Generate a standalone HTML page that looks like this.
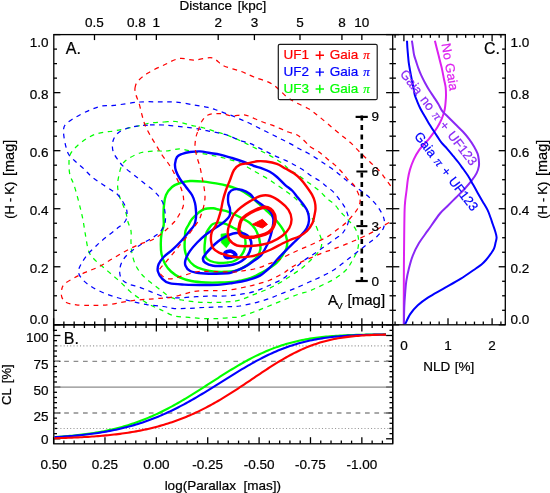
<!DOCTYPE html>
<html><head><meta charset="utf-8"><style>
html,body{margin:0;padding:0;background:#fff;width:550px;height:493px;overflow:hidden}
svg{display:block;will-change:transform}
text{stroke:currentColor;stroke-width:0.22px}
</style></head><body>
<svg width="550" height="493" viewBox="0 0 550 493"><defs><clipPath id="ca"><rect x="54.4" y="35.2" width="337.7" height="289"/></clipPath>
<clipPath id="cb"><rect x="54.4" y="325.4" width="337.7" height="117.8"/></clipPath>
<clipPath id="cc"><rect x="393.3" y="35.2" width="111.4" height="289"/></clipPath></defs>
<g fill="none" stroke="#000" stroke-width="1.3">
<rect x="53.8" y="34.6" width="451.5" height="290.2"/>
<rect x="53.8" y="324.8" width="338.9" height="119"/>
<line x1="392.7" y1="34.6" x2="392.7" y2="443.8"/>
</g>
<g stroke="#000" stroke-width="1.3">
<line x1="53.6" y1="324.8" x2="53.6" y2="318.2" stroke="#000" stroke-width="1.3"/>
<line x1="53.6" y1="324.8" x2="53.6" y2="331.4" stroke="#000" stroke-width="1.3"/>
<line x1="53.6" y1="443.8" x2="53.6" y2="437.2" stroke="#000" stroke-width="1.3"/>
<line x1="63.88" y1="324.8" x2="63.88" y2="321.6" stroke="#000" stroke-width="1.3"/>
<line x1="63.88" y1="324.8" x2="63.88" y2="328" stroke="#000" stroke-width="1.3"/>
<line x1="63.88" y1="443.8" x2="63.88" y2="440.6" stroke="#000" stroke-width="1.3"/>
<line x1="74.15" y1="324.8" x2="74.15" y2="321.6" stroke="#000" stroke-width="1.3"/>
<line x1="74.15" y1="324.8" x2="74.15" y2="328" stroke="#000" stroke-width="1.3"/>
<line x1="74.15" y1="443.8" x2="74.15" y2="440.6" stroke="#000" stroke-width="1.3"/>
<line x1="84.43" y1="324.8" x2="84.43" y2="321.6" stroke="#000" stroke-width="1.3"/>
<line x1="84.43" y1="324.8" x2="84.43" y2="328" stroke="#000" stroke-width="1.3"/>
<line x1="84.43" y1="443.8" x2="84.43" y2="440.6" stroke="#000" stroke-width="1.3"/>
<line x1="94.7" y1="324.8" x2="94.7" y2="321.6" stroke="#000" stroke-width="1.3"/>
<line x1="94.7" y1="324.8" x2="94.7" y2="328" stroke="#000" stroke-width="1.3"/>
<line x1="94.7" y1="443.8" x2="94.7" y2="440.6" stroke="#000" stroke-width="1.3"/>
<line x1="104.97" y1="324.8" x2="104.97" y2="318.2" stroke="#000" stroke-width="1.3"/>
<line x1="104.97" y1="324.8" x2="104.97" y2="331.4" stroke="#000" stroke-width="1.3"/>
<line x1="104.97" y1="443.8" x2="104.97" y2="437.2" stroke="#000" stroke-width="1.3"/>
<line x1="115.25" y1="324.8" x2="115.25" y2="321.6" stroke="#000" stroke-width="1.3"/>
<line x1="115.25" y1="324.8" x2="115.25" y2="328" stroke="#000" stroke-width="1.3"/>
<line x1="115.25" y1="443.8" x2="115.25" y2="440.6" stroke="#000" stroke-width="1.3"/>
<line x1="125.53" y1="324.8" x2="125.53" y2="321.6" stroke="#000" stroke-width="1.3"/>
<line x1="125.53" y1="324.8" x2="125.53" y2="328" stroke="#000" stroke-width="1.3"/>
<line x1="125.53" y1="443.8" x2="125.53" y2="440.6" stroke="#000" stroke-width="1.3"/>
<line x1="135.8" y1="324.8" x2="135.8" y2="321.6" stroke="#000" stroke-width="1.3"/>
<line x1="135.8" y1="324.8" x2="135.8" y2="328" stroke="#000" stroke-width="1.3"/>
<line x1="135.8" y1="443.8" x2="135.8" y2="440.6" stroke="#000" stroke-width="1.3"/>
<line x1="146.08" y1="324.8" x2="146.08" y2="321.6" stroke="#000" stroke-width="1.3"/>
<line x1="146.08" y1="324.8" x2="146.08" y2="328" stroke="#000" stroke-width="1.3"/>
<line x1="146.08" y1="443.8" x2="146.08" y2="440.6" stroke="#000" stroke-width="1.3"/>
<line x1="156.35" y1="324.8" x2="156.35" y2="318.2" stroke="#000" stroke-width="1.3"/>
<line x1="156.35" y1="324.8" x2="156.35" y2="331.4" stroke="#000" stroke-width="1.3"/>
<line x1="156.35" y1="443.8" x2="156.35" y2="437.2" stroke="#000" stroke-width="1.3"/>
<line x1="166.62" y1="324.8" x2="166.62" y2="321.6" stroke="#000" stroke-width="1.3"/>
<line x1="166.62" y1="324.8" x2="166.62" y2="328" stroke="#000" stroke-width="1.3"/>
<line x1="166.62" y1="443.8" x2="166.62" y2="440.6" stroke="#000" stroke-width="1.3"/>
<line x1="176.9" y1="324.8" x2="176.9" y2="321.6" stroke="#000" stroke-width="1.3"/>
<line x1="176.9" y1="324.8" x2="176.9" y2="328" stroke="#000" stroke-width="1.3"/>
<line x1="176.9" y1="443.8" x2="176.9" y2="440.6" stroke="#000" stroke-width="1.3"/>
<line x1="187.18" y1="324.8" x2="187.18" y2="321.6" stroke="#000" stroke-width="1.3"/>
<line x1="187.18" y1="324.8" x2="187.18" y2="328" stroke="#000" stroke-width="1.3"/>
<line x1="187.18" y1="443.8" x2="187.18" y2="440.6" stroke="#000" stroke-width="1.3"/>
<line x1="197.45" y1="324.8" x2="197.45" y2="321.6" stroke="#000" stroke-width="1.3"/>
<line x1="197.45" y1="324.8" x2="197.45" y2="328" stroke="#000" stroke-width="1.3"/>
<line x1="197.45" y1="443.8" x2="197.45" y2="440.6" stroke="#000" stroke-width="1.3"/>
<line x1="207.72" y1="324.8" x2="207.72" y2="318.2" stroke="#000" stroke-width="1.3"/>
<line x1="207.72" y1="324.8" x2="207.72" y2="331.4" stroke="#000" stroke-width="1.3"/>
<line x1="207.72" y1="443.8" x2="207.72" y2="437.2" stroke="#000" stroke-width="1.3"/>
<line x1="218" y1="324.8" x2="218" y2="321.6" stroke="#000" stroke-width="1.3"/>
<line x1="218" y1="324.8" x2="218" y2="328" stroke="#000" stroke-width="1.3"/>
<line x1="218" y1="443.8" x2="218" y2="440.6" stroke="#000" stroke-width="1.3"/>
<line x1="228.28" y1="324.8" x2="228.28" y2="321.6" stroke="#000" stroke-width="1.3"/>
<line x1="228.28" y1="324.8" x2="228.28" y2="328" stroke="#000" stroke-width="1.3"/>
<line x1="228.28" y1="443.8" x2="228.28" y2="440.6" stroke="#000" stroke-width="1.3"/>
<line x1="238.55" y1="324.8" x2="238.55" y2="321.6" stroke="#000" stroke-width="1.3"/>
<line x1="238.55" y1="324.8" x2="238.55" y2="328" stroke="#000" stroke-width="1.3"/>
<line x1="238.55" y1="443.8" x2="238.55" y2="440.6" stroke="#000" stroke-width="1.3"/>
<line x1="248.83" y1="324.8" x2="248.83" y2="321.6" stroke="#000" stroke-width="1.3"/>
<line x1="248.83" y1="324.8" x2="248.83" y2="328" stroke="#000" stroke-width="1.3"/>
<line x1="248.83" y1="443.8" x2="248.83" y2="440.6" stroke="#000" stroke-width="1.3"/>
<line x1="259.1" y1="324.8" x2="259.1" y2="318.2" stroke="#000" stroke-width="1.3"/>
<line x1="259.1" y1="324.8" x2="259.1" y2="331.4" stroke="#000" stroke-width="1.3"/>
<line x1="259.1" y1="443.8" x2="259.1" y2="437.2" stroke="#000" stroke-width="1.3"/>
<line x1="269.38" y1="324.8" x2="269.38" y2="321.6" stroke="#000" stroke-width="1.3"/>
<line x1="269.38" y1="324.8" x2="269.38" y2="328" stroke="#000" stroke-width="1.3"/>
<line x1="269.38" y1="443.8" x2="269.38" y2="440.6" stroke="#000" stroke-width="1.3"/>
<line x1="279.65" y1="324.8" x2="279.65" y2="321.6" stroke="#000" stroke-width="1.3"/>
<line x1="279.65" y1="324.8" x2="279.65" y2="328" stroke="#000" stroke-width="1.3"/>
<line x1="279.65" y1="443.8" x2="279.65" y2="440.6" stroke="#000" stroke-width="1.3"/>
<line x1="289.93" y1="324.8" x2="289.93" y2="321.6" stroke="#000" stroke-width="1.3"/>
<line x1="289.93" y1="324.8" x2="289.93" y2="328" stroke="#000" stroke-width="1.3"/>
<line x1="289.93" y1="443.8" x2="289.93" y2="440.6" stroke="#000" stroke-width="1.3"/>
<line x1="300.2" y1="324.8" x2="300.2" y2="321.6" stroke="#000" stroke-width="1.3"/>
<line x1="300.2" y1="324.8" x2="300.2" y2="328" stroke="#000" stroke-width="1.3"/>
<line x1="300.2" y1="443.8" x2="300.2" y2="440.6" stroke="#000" stroke-width="1.3"/>
<line x1="310.48" y1="324.8" x2="310.48" y2="318.2" stroke="#000" stroke-width="1.3"/>
<line x1="310.48" y1="324.8" x2="310.48" y2="331.4" stroke="#000" stroke-width="1.3"/>
<line x1="310.48" y1="443.8" x2="310.48" y2="437.2" stroke="#000" stroke-width="1.3"/>
<line x1="320.75" y1="324.8" x2="320.75" y2="321.6" stroke="#000" stroke-width="1.3"/>
<line x1="320.75" y1="324.8" x2="320.75" y2="328" stroke="#000" stroke-width="1.3"/>
<line x1="320.75" y1="443.8" x2="320.75" y2="440.6" stroke="#000" stroke-width="1.3"/>
<line x1="331.03" y1="324.8" x2="331.03" y2="321.6" stroke="#000" stroke-width="1.3"/>
<line x1="331.03" y1="324.8" x2="331.03" y2="328" stroke="#000" stroke-width="1.3"/>
<line x1="331.03" y1="443.8" x2="331.03" y2="440.6" stroke="#000" stroke-width="1.3"/>
<line x1="341.3" y1="324.8" x2="341.3" y2="321.6" stroke="#000" stroke-width="1.3"/>
<line x1="341.3" y1="324.8" x2="341.3" y2="328" stroke="#000" stroke-width="1.3"/>
<line x1="341.3" y1="443.8" x2="341.3" y2="440.6" stroke="#000" stroke-width="1.3"/>
<line x1="351.58" y1="324.8" x2="351.58" y2="321.6" stroke="#000" stroke-width="1.3"/>
<line x1="351.58" y1="324.8" x2="351.58" y2="328" stroke="#000" stroke-width="1.3"/>
<line x1="351.58" y1="443.8" x2="351.58" y2="440.6" stroke="#000" stroke-width="1.3"/>
<line x1="361.85" y1="324.8" x2="361.85" y2="318.2" stroke="#000" stroke-width="1.3"/>
<line x1="361.85" y1="324.8" x2="361.85" y2="331.4" stroke="#000" stroke-width="1.3"/>
<line x1="361.85" y1="443.8" x2="361.85" y2="437.2" stroke="#000" stroke-width="1.3"/>
<line x1="372.13" y1="324.8" x2="372.13" y2="321.6" stroke="#000" stroke-width="1.3"/>
<line x1="372.13" y1="324.8" x2="372.13" y2="328" stroke="#000" stroke-width="1.3"/>
<line x1="372.13" y1="443.8" x2="372.13" y2="440.6" stroke="#000" stroke-width="1.3"/>
<line x1="382.4" y1="324.8" x2="382.4" y2="321.6" stroke="#000" stroke-width="1.3"/>
<line x1="382.4" y1="324.8" x2="382.4" y2="328" stroke="#000" stroke-width="1.3"/>
<line x1="382.4" y1="443.8" x2="382.4" y2="440.6" stroke="#000" stroke-width="1.3"/>
<line x1="94.49" y1="34.6" x2="94.49" y2="40.1" stroke="#000" stroke-width="1.3"/>
<line x1="136.43" y1="34.6" x2="136.43" y2="40.1" stroke="#000" stroke-width="1.3"/>
<line x1="156.35" y1="34.6" x2="156.35" y2="40.1" stroke="#000" stroke-width="1.3"/>
<line x1="218.21" y1="34.6" x2="218.21" y2="40.1" stroke="#000" stroke-width="1.3"/>
<line x1="254.4" y1="34.6" x2="254.4" y2="40.1" stroke="#000" stroke-width="1.3"/>
<line x1="299.99" y1="34.6" x2="299.99" y2="40.1" stroke="#000" stroke-width="1.3"/>
<line x1="341.93" y1="34.6" x2="341.93" y2="40.1" stroke="#000" stroke-width="1.3"/>
<line x1="361.85" y1="34.6" x2="361.85" y2="40.1" stroke="#000" stroke-width="1.3"/>
<line x1="53.8" y1="324.8" x2="60.4" y2="324.8" stroke="#000" stroke-width="1.3"/>
<line x1="392.7" y1="324.8" x2="386.1" y2="324.8" stroke="#000" stroke-width="1.3"/>
<line x1="392.7" y1="324.8" x2="399.3" y2="324.8" stroke="#000" stroke-width="1.3"/>
<line x1="505.3" y1="324.8" x2="498.7" y2="324.8" stroke="#000" stroke-width="1.3"/>
<line x1="53.8" y1="310.29" x2="57" y2="310.29" stroke="#000" stroke-width="1.3"/>
<line x1="392.7" y1="310.29" x2="389.5" y2="310.29" stroke="#000" stroke-width="1.3"/>
<line x1="392.7" y1="310.29" x2="395.9" y2="310.29" stroke="#000" stroke-width="1.3"/>
<line x1="505.3" y1="310.29" x2="502.1" y2="310.29" stroke="#000" stroke-width="1.3"/>
<line x1="53.8" y1="295.78" x2="57" y2="295.78" stroke="#000" stroke-width="1.3"/>
<line x1="392.7" y1="295.78" x2="389.5" y2="295.78" stroke="#000" stroke-width="1.3"/>
<line x1="392.7" y1="295.78" x2="395.9" y2="295.78" stroke="#000" stroke-width="1.3"/>
<line x1="505.3" y1="295.78" x2="502.1" y2="295.78" stroke="#000" stroke-width="1.3"/>
<line x1="53.8" y1="281.27" x2="57" y2="281.27" stroke="#000" stroke-width="1.3"/>
<line x1="392.7" y1="281.27" x2="389.5" y2="281.27" stroke="#000" stroke-width="1.3"/>
<line x1="392.7" y1="281.27" x2="395.9" y2="281.27" stroke="#000" stroke-width="1.3"/>
<line x1="505.3" y1="281.27" x2="502.1" y2="281.27" stroke="#000" stroke-width="1.3"/>
<line x1="53.8" y1="266.76" x2="60.4" y2="266.76" stroke="#000" stroke-width="1.3"/>
<line x1="392.7" y1="266.76" x2="386.1" y2="266.76" stroke="#000" stroke-width="1.3"/>
<line x1="392.7" y1="266.76" x2="399.3" y2="266.76" stroke="#000" stroke-width="1.3"/>
<line x1="505.3" y1="266.76" x2="498.7" y2="266.76" stroke="#000" stroke-width="1.3"/>
<line x1="53.8" y1="252.25" x2="57" y2="252.25" stroke="#000" stroke-width="1.3"/>
<line x1="392.7" y1="252.25" x2="389.5" y2="252.25" stroke="#000" stroke-width="1.3"/>
<line x1="392.7" y1="252.25" x2="395.9" y2="252.25" stroke="#000" stroke-width="1.3"/>
<line x1="505.3" y1="252.25" x2="502.1" y2="252.25" stroke="#000" stroke-width="1.3"/>
<line x1="53.8" y1="237.74" x2="57" y2="237.74" stroke="#000" stroke-width="1.3"/>
<line x1="392.7" y1="237.74" x2="389.5" y2="237.74" stroke="#000" stroke-width="1.3"/>
<line x1="392.7" y1="237.74" x2="395.9" y2="237.74" stroke="#000" stroke-width="1.3"/>
<line x1="505.3" y1="237.74" x2="502.1" y2="237.74" stroke="#000" stroke-width="1.3"/>
<line x1="53.8" y1="223.23" x2="57" y2="223.23" stroke="#000" stroke-width="1.3"/>
<line x1="392.7" y1="223.23" x2="389.5" y2="223.23" stroke="#000" stroke-width="1.3"/>
<line x1="392.7" y1="223.23" x2="395.9" y2="223.23" stroke="#000" stroke-width="1.3"/>
<line x1="505.3" y1="223.23" x2="502.1" y2="223.23" stroke="#000" stroke-width="1.3"/>
<line x1="53.8" y1="208.72" x2="60.4" y2="208.72" stroke="#000" stroke-width="1.3"/>
<line x1="392.7" y1="208.72" x2="386.1" y2="208.72" stroke="#000" stroke-width="1.3"/>
<line x1="392.7" y1="208.72" x2="399.3" y2="208.72" stroke="#000" stroke-width="1.3"/>
<line x1="505.3" y1="208.72" x2="498.7" y2="208.72" stroke="#000" stroke-width="1.3"/>
<line x1="53.8" y1="194.21" x2="57" y2="194.21" stroke="#000" stroke-width="1.3"/>
<line x1="392.7" y1="194.21" x2="389.5" y2="194.21" stroke="#000" stroke-width="1.3"/>
<line x1="392.7" y1="194.21" x2="395.9" y2="194.21" stroke="#000" stroke-width="1.3"/>
<line x1="505.3" y1="194.21" x2="502.1" y2="194.21" stroke="#000" stroke-width="1.3"/>
<line x1="53.8" y1="179.7" x2="57" y2="179.7" stroke="#000" stroke-width="1.3"/>
<line x1="392.7" y1="179.7" x2="389.5" y2="179.7" stroke="#000" stroke-width="1.3"/>
<line x1="392.7" y1="179.7" x2="395.9" y2="179.7" stroke="#000" stroke-width="1.3"/>
<line x1="505.3" y1="179.7" x2="502.1" y2="179.7" stroke="#000" stroke-width="1.3"/>
<line x1="53.8" y1="165.19" x2="57" y2="165.19" stroke="#000" stroke-width="1.3"/>
<line x1="392.7" y1="165.19" x2="389.5" y2="165.19" stroke="#000" stroke-width="1.3"/>
<line x1="392.7" y1="165.19" x2="395.9" y2="165.19" stroke="#000" stroke-width="1.3"/>
<line x1="505.3" y1="165.19" x2="502.1" y2="165.19" stroke="#000" stroke-width="1.3"/>
<line x1="53.8" y1="150.68" x2="60.4" y2="150.68" stroke="#000" stroke-width="1.3"/>
<line x1="392.7" y1="150.68" x2="386.1" y2="150.68" stroke="#000" stroke-width="1.3"/>
<line x1="392.7" y1="150.68" x2="399.3" y2="150.68" stroke="#000" stroke-width="1.3"/>
<line x1="505.3" y1="150.68" x2="498.7" y2="150.68" stroke="#000" stroke-width="1.3"/>
<line x1="53.8" y1="136.17" x2="57" y2="136.17" stroke="#000" stroke-width="1.3"/>
<line x1="392.7" y1="136.17" x2="389.5" y2="136.17" stroke="#000" stroke-width="1.3"/>
<line x1="392.7" y1="136.17" x2="395.9" y2="136.17" stroke="#000" stroke-width="1.3"/>
<line x1="505.3" y1="136.17" x2="502.1" y2="136.17" stroke="#000" stroke-width="1.3"/>
<line x1="53.8" y1="121.66" x2="57" y2="121.66" stroke="#000" stroke-width="1.3"/>
<line x1="392.7" y1="121.66" x2="389.5" y2="121.66" stroke="#000" stroke-width="1.3"/>
<line x1="392.7" y1="121.66" x2="395.9" y2="121.66" stroke="#000" stroke-width="1.3"/>
<line x1="505.3" y1="121.66" x2="502.1" y2="121.66" stroke="#000" stroke-width="1.3"/>
<line x1="53.8" y1="107.15" x2="57" y2="107.15" stroke="#000" stroke-width="1.3"/>
<line x1="392.7" y1="107.15" x2="389.5" y2="107.15" stroke="#000" stroke-width="1.3"/>
<line x1="392.7" y1="107.15" x2="395.9" y2="107.15" stroke="#000" stroke-width="1.3"/>
<line x1="505.3" y1="107.15" x2="502.1" y2="107.15" stroke="#000" stroke-width="1.3"/>
<line x1="53.8" y1="92.64" x2="60.4" y2="92.64" stroke="#000" stroke-width="1.3"/>
<line x1="392.7" y1="92.64" x2="386.1" y2="92.64" stroke="#000" stroke-width="1.3"/>
<line x1="392.7" y1="92.64" x2="399.3" y2="92.64" stroke="#000" stroke-width="1.3"/>
<line x1="505.3" y1="92.64" x2="498.7" y2="92.64" stroke="#000" stroke-width="1.3"/>
<line x1="53.8" y1="78.13" x2="57" y2="78.13" stroke="#000" stroke-width="1.3"/>
<line x1="392.7" y1="78.13" x2="389.5" y2="78.13" stroke="#000" stroke-width="1.3"/>
<line x1="392.7" y1="78.13" x2="395.9" y2="78.13" stroke="#000" stroke-width="1.3"/>
<line x1="505.3" y1="78.13" x2="502.1" y2="78.13" stroke="#000" stroke-width="1.3"/>
<line x1="53.8" y1="63.62" x2="57" y2="63.62" stroke="#000" stroke-width="1.3"/>
<line x1="392.7" y1="63.62" x2="389.5" y2="63.62" stroke="#000" stroke-width="1.3"/>
<line x1="392.7" y1="63.62" x2="395.9" y2="63.62" stroke="#000" stroke-width="1.3"/>
<line x1="505.3" y1="63.62" x2="502.1" y2="63.62" stroke="#000" stroke-width="1.3"/>
<line x1="53.8" y1="49.11" x2="57" y2="49.11" stroke="#000" stroke-width="1.3"/>
<line x1="392.7" y1="49.11" x2="389.5" y2="49.11" stroke="#000" stroke-width="1.3"/>
<line x1="392.7" y1="49.11" x2="395.9" y2="49.11" stroke="#000" stroke-width="1.3"/>
<line x1="505.3" y1="49.11" x2="502.1" y2="49.11" stroke="#000" stroke-width="1.3"/>
<line x1="53.8" y1="34.6" x2="60.4" y2="34.6" stroke="#000" stroke-width="1.3"/>
<line x1="392.7" y1="34.6" x2="386.1" y2="34.6" stroke="#000" stroke-width="1.3"/>
<line x1="392.7" y1="34.6" x2="399.3" y2="34.6" stroke="#000" stroke-width="1.3"/>
<line x1="505.3" y1="34.6" x2="498.7" y2="34.6" stroke="#000" stroke-width="1.3"/>
<line x1="53.8" y1="438.8" x2="60.4" y2="438.8" stroke="#000" stroke-width="1.3"/>
<line x1="392.7" y1="438.8" x2="386.1" y2="438.8" stroke="#000" stroke-width="1.3"/>
<line x1="53.8" y1="433.63" x2="57" y2="433.63" stroke="#000" stroke-width="1.3"/>
<line x1="392.7" y1="433.63" x2="389.5" y2="433.63" stroke="#000" stroke-width="1.3"/>
<line x1="53.8" y1="428.47" x2="57" y2="428.47" stroke="#000" stroke-width="1.3"/>
<line x1="392.7" y1="428.47" x2="389.5" y2="428.47" stroke="#000" stroke-width="1.3"/>
<line x1="53.8" y1="423.31" x2="57" y2="423.31" stroke="#000" stroke-width="1.3"/>
<line x1="392.7" y1="423.31" x2="389.5" y2="423.31" stroke="#000" stroke-width="1.3"/>
<line x1="53.8" y1="418.14" x2="57" y2="418.14" stroke="#000" stroke-width="1.3"/>
<line x1="392.7" y1="418.14" x2="389.5" y2="418.14" stroke="#000" stroke-width="1.3"/>
<line x1="53.8" y1="412.98" x2="60.4" y2="412.98" stroke="#000" stroke-width="1.3"/>
<line x1="392.7" y1="412.98" x2="386.1" y2="412.98" stroke="#000" stroke-width="1.3"/>
<line x1="53.8" y1="407.81" x2="57" y2="407.81" stroke="#000" stroke-width="1.3"/>
<line x1="392.7" y1="407.81" x2="389.5" y2="407.81" stroke="#000" stroke-width="1.3"/>
<line x1="53.8" y1="402.65" x2="57" y2="402.65" stroke="#000" stroke-width="1.3"/>
<line x1="392.7" y1="402.65" x2="389.5" y2="402.65" stroke="#000" stroke-width="1.3"/>
<line x1="53.8" y1="397.48" x2="57" y2="397.48" stroke="#000" stroke-width="1.3"/>
<line x1="392.7" y1="397.48" x2="389.5" y2="397.48" stroke="#000" stroke-width="1.3"/>
<line x1="53.8" y1="392.31" x2="57" y2="392.31" stroke="#000" stroke-width="1.3"/>
<line x1="392.7" y1="392.31" x2="389.5" y2="392.31" stroke="#000" stroke-width="1.3"/>
<line x1="53.8" y1="387.15" x2="60.4" y2="387.15" stroke="#000" stroke-width="1.3"/>
<line x1="392.7" y1="387.15" x2="386.1" y2="387.15" stroke="#000" stroke-width="1.3"/>
<line x1="53.8" y1="381.99" x2="57" y2="381.99" stroke="#000" stroke-width="1.3"/>
<line x1="392.7" y1="381.99" x2="389.5" y2="381.99" stroke="#000" stroke-width="1.3"/>
<line x1="53.8" y1="376.82" x2="57" y2="376.82" stroke="#000" stroke-width="1.3"/>
<line x1="392.7" y1="376.82" x2="389.5" y2="376.82" stroke="#000" stroke-width="1.3"/>
<line x1="53.8" y1="371.66" x2="57" y2="371.66" stroke="#000" stroke-width="1.3"/>
<line x1="392.7" y1="371.66" x2="389.5" y2="371.66" stroke="#000" stroke-width="1.3"/>
<line x1="53.8" y1="366.49" x2="57" y2="366.49" stroke="#000" stroke-width="1.3"/>
<line x1="392.7" y1="366.49" x2="389.5" y2="366.49" stroke="#000" stroke-width="1.3"/>
<line x1="53.8" y1="361.33" x2="60.4" y2="361.33" stroke="#000" stroke-width="1.3"/>
<line x1="392.7" y1="361.33" x2="386.1" y2="361.33" stroke="#000" stroke-width="1.3"/>
<line x1="53.8" y1="356.16" x2="57" y2="356.16" stroke="#000" stroke-width="1.3"/>
<line x1="392.7" y1="356.16" x2="389.5" y2="356.16" stroke="#000" stroke-width="1.3"/>
<line x1="53.8" y1="351" x2="57" y2="351" stroke="#000" stroke-width="1.3"/>
<line x1="392.7" y1="351" x2="389.5" y2="351" stroke="#000" stroke-width="1.3"/>
<line x1="53.8" y1="345.83" x2="57" y2="345.83" stroke="#000" stroke-width="1.3"/>
<line x1="392.7" y1="345.83" x2="389.5" y2="345.83" stroke="#000" stroke-width="1.3"/>
<line x1="53.8" y1="340.67" x2="57" y2="340.67" stroke="#000" stroke-width="1.3"/>
<line x1="392.7" y1="340.67" x2="389.5" y2="340.67" stroke="#000" stroke-width="1.3"/>
<line x1="53.8" y1="335.5" x2="60.4" y2="335.5" stroke="#000" stroke-width="1.3"/>
<line x1="392.7" y1="335.5" x2="386.1" y2="335.5" stroke="#000" stroke-width="1.3"/>
<line x1="53.8" y1="330.34" x2="57" y2="330.34" stroke="#000" stroke-width="1.3"/>
<line x1="392.7" y1="330.34" x2="389.5" y2="330.34" stroke="#000" stroke-width="1.3"/>
<line x1="395.08" y1="34.6" x2="395.08" y2="37.8" stroke="#000" stroke-width="1.3"/>
<line x1="395.08" y1="324.8" x2="395.08" y2="321.6" stroke="#000" stroke-width="1.3"/>
<line x1="403.9" y1="34.6" x2="403.9" y2="41.2" stroke="#000" stroke-width="1.3"/>
<line x1="403.9" y1="324.8" x2="403.9" y2="318.2" stroke="#000" stroke-width="1.3"/>
<line x1="412.72" y1="34.6" x2="412.72" y2="37.8" stroke="#000" stroke-width="1.3"/>
<line x1="412.72" y1="324.8" x2="412.72" y2="321.6" stroke="#000" stroke-width="1.3"/>
<line x1="421.54" y1="34.6" x2="421.54" y2="37.8" stroke="#000" stroke-width="1.3"/>
<line x1="421.54" y1="324.8" x2="421.54" y2="321.6" stroke="#000" stroke-width="1.3"/>
<line x1="430.36" y1="34.6" x2="430.36" y2="37.8" stroke="#000" stroke-width="1.3"/>
<line x1="430.36" y1="324.8" x2="430.36" y2="321.6" stroke="#000" stroke-width="1.3"/>
<line x1="439.18" y1="34.6" x2="439.18" y2="37.8" stroke="#000" stroke-width="1.3"/>
<line x1="439.18" y1="324.8" x2="439.18" y2="321.6" stroke="#000" stroke-width="1.3"/>
<line x1="448" y1="34.6" x2="448" y2="41.2" stroke="#000" stroke-width="1.3"/>
<line x1="448" y1="324.8" x2="448" y2="318.2" stroke="#000" stroke-width="1.3"/>
<line x1="456.82" y1="34.6" x2="456.82" y2="37.8" stroke="#000" stroke-width="1.3"/>
<line x1="456.82" y1="324.8" x2="456.82" y2="321.6" stroke="#000" stroke-width="1.3"/>
<line x1="465.64" y1="34.6" x2="465.64" y2="37.8" stroke="#000" stroke-width="1.3"/>
<line x1="465.64" y1="324.8" x2="465.64" y2="321.6" stroke="#000" stroke-width="1.3"/>
<line x1="474.46" y1="34.6" x2="474.46" y2="37.8" stroke="#000" stroke-width="1.3"/>
<line x1="474.46" y1="324.8" x2="474.46" y2="321.6" stroke="#000" stroke-width="1.3"/>
<line x1="483.28" y1="34.6" x2="483.28" y2="37.8" stroke="#000" stroke-width="1.3"/>
<line x1="483.28" y1="324.8" x2="483.28" y2="321.6" stroke="#000" stroke-width="1.3"/>
<line x1="492.1" y1="34.6" x2="492.1" y2="41.2" stroke="#000" stroke-width="1.3"/>
<line x1="492.1" y1="324.8" x2="492.1" y2="318.2" stroke="#000" stroke-width="1.3"/>
<line x1="500.92" y1="34.6" x2="500.92" y2="37.8" stroke="#000" stroke-width="1.3"/>
<line x1="500.92" y1="324.8" x2="500.92" y2="321.6" stroke="#000" stroke-width="1.3"/>
</g>
<g clip-path="url(#ca)" fill="none" stroke-linejoin="round">
<path d="M164,122C168.33,121.75 171.67,121 176,121.5C180.33,122 185.33,123.92 190,125C194.67,126.08 199.53,126.83 204,128C208.47,129.17 212.63,130.7 216.8,132C220.97,133.3 224.67,134.15 229,135.8C233.33,137.45 239.07,140.17 242.8,141.9C246.53,143.63 248.55,144.77 251.4,146.2C254.25,147.63 257.07,149.08 259.9,150.5C262.73,151.92 265.57,153.17 268.4,154.7C271.23,156.23 274.3,158.03 276.9,159.7C279.5,161.37 281.9,163.02 284,164.7C286.1,166.38 287.2,168.12 289.5,169.8C291.8,171.48 295,172.9 297.8,174.8C300.6,176.7 303.7,179.3 306.3,181.2C308.9,183.1 311.03,184.42 313.4,186.2C315.77,187.98 318.13,189.77 320.5,191.9C322.87,194.03 325.23,196.87 327.6,199C329.97,201.13 332.57,202.57 334.7,204.7C336.83,206.83 338.68,209.83 340.4,211.8C342.12,213.77 343.57,215 345,216.5C346.43,218 347.25,218.72 349,220.8C350.75,222.88 353.92,225.97 355.5,229C357.08,232.03 358.17,235.5 358.5,239C358.83,242.5 358.58,246.33 357.5,250C356.42,253.67 353.92,257.67 352,261C350.08,264.33 348.92,267.02 346,270C343.08,272.98 339.28,275.98 334.5,278.9C329.72,281.82 321.65,285.42 317.3,287.5C312.95,289.58 311.58,290.27 308.4,291.4C305.22,292.53 302.33,292.87 298.2,294.3C294.07,295.73 288.47,298.05 283.6,300C278.73,301.95 273.85,304.05 269,306C264.15,307.95 259.33,309.92 254.5,311.7C249.67,313.48 243.63,315.75 240,316.7C236.37,317.65 236.33,317.1 232.7,317.4C229.07,317.7 223.05,318.32 218.2,318.5C213.35,318.68 208.47,318.68 203.6,318.5C198.73,318.32 193.85,317.82 189,317.4C184.15,316.98 178.6,316.98 174.5,316C170.4,315.02 166.98,312.67 164.4,311.5C161.82,310.33 161.4,310.12 159,309C156.6,307.88 153.37,306.63 150,304.8C146.63,302.97 142.13,300.23 138.8,298C135.47,295.77 132.97,293.98 130,291.4C127.03,288.82 124,285.28 121,282.5C118,279.72 115,277.28 112,274.7C109,272.12 106,269.62 103,267C100,264.38 96.4,261.67 94,259C91.6,256.33 90.07,255.27 88.6,251C87.13,246.73 86.13,238.57 85.2,233.4C84.27,228.23 83.7,223.73 83,220C82.3,216.27 81.83,214.5 81,211C80.17,207.5 79.17,203.33 78,199C76.83,194.67 75.33,189 74,185C72.67,181 70.83,178.33 70,175C69.17,171.67 69,168.33 69,165C69,161.67 68.83,158 70,155C71.17,152 73.33,149.67 76,147C78.67,144.33 82.67,141.17 86,139C89.33,136.83 92.67,135.17 96,134C99.33,132.83 103,132.5 106,132C109,131.5 111,131.5 114,131C117,130.5 120,129.83 124,129C128,128.17 133.67,127 138,126C142.33,125 145.67,123.67 150,123C154.33,122.33 159.67,122.25 164,122Z" stroke="#00ff00" stroke-width="1.25" stroke-dasharray="4.7,4.6"/>
<path d="M166,151C170.33,150.67 175.33,148.83 180,149C184.67,149.17 189,151 194,152C199,153 205,154 210,155C215,156 219,156.67 224,158C229,159.33 235,160.83 240,163C245,165.17 249.33,168.33 254,171C258.67,173.67 264.67,177 268,179C271.33,181 271.17,181.08 274,183C276.83,184.92 281.33,187.83 285,190.5C288.67,193.17 292.75,196.08 296,199C299.25,201.92 302,205.07 304.5,208C307,210.93 309.37,214.22 311,216.6C312.63,218.98 313.13,219.93 314.3,222.3C315.47,224.67 316.78,227.75 318,230.8C319.22,233.85 321.2,237.55 321.6,240.6C322,243.65 321.62,246.47 320.4,249.1C319.18,251.73 316.53,253.97 314.3,256.4C312.07,258.83 309.43,261.47 307,263.7C304.57,265.93 303.6,267 299.7,269.8C295.8,272.6 288.72,277.38 283.6,280.5C278.48,283.62 273.85,286.2 269,288.5C264.15,290.8 259.33,292.38 254.5,294.3C249.67,296.22 244.83,298.72 240,300C235.17,301.28 230.33,301.58 225.5,302C220.67,302.42 215.85,302.5 211,302.5C206.15,302.5 201.27,302.42 196.4,302C191.53,301.58 185.93,300.72 181.8,300C177.67,299.28 174.73,299.03 171.6,297.7C168.47,296.37 165.5,293.78 163,292C160.5,290.22 159.15,289 156.6,287C154.05,285 150.3,282.25 147.7,280C145.1,277.75 143.05,276.07 141,273.5C138.95,270.93 136.9,267.93 135.4,264.6C133.9,261.27 132.73,257.22 132,253.5C131.27,249.78 131.17,246.05 131,242.3C130.83,238.55 131.5,234.38 131,231C130.5,227.62 128.83,225 128,222C127.17,219 126.83,215.83 126,213C125.17,210.17 124.17,208 123,205C121.83,202 119.9,198.33 119,195C118.1,191.67 117.6,188.33 117.6,185C117.6,181.67 118.27,178.33 119,175C119.73,171.67 120.5,167.67 122,165C123.5,162.33 125,161 128,159C131,157 135.67,154.33 140,153C144.33,151.67 149.67,151.33 154,151C158.33,150.67 161.67,151.33 166,151Z" stroke="#00ff00" stroke-width="1.25" stroke-dasharray="4.7,4.6"/>
<path d="M164,205C164.42,201.67 164.67,198 166,195C167.33,192 169.67,189 172,187C174.33,185 177,184 180,183C183,182 186,181.23 190,181C194,180.77 199.67,181.2 204,181.6C208.33,182 212,182.67 216,183.4C220,184.13 224,184.9 228,186C232,187.1 236.33,188.33 240,190C243.67,191.67 247,193.83 250,196C253,198.17 255,200.33 258,203C261,205.67 264.95,209.08 268,212C271.05,214.92 273.65,217.32 276.3,220.5C278.95,223.68 282.12,227.85 283.9,231.1C285.68,234.35 286.57,237.18 287,240C287.43,242.82 287.27,245.42 286.5,248C285.73,250.58 284.1,252.98 282.4,255.5C280.7,258.02 278.83,260.77 276.3,263.1C273.77,265.43 270.25,267.6 267.2,269.5C264.15,271.4 260.73,273.12 258,274.5C255.27,275.88 253.52,276.83 250.8,277.8C248.08,278.77 244.33,279.65 241.7,280.3C239.07,280.95 238.53,281.33 235,281.7C231.47,282.07 225.35,282.37 220.5,282.5C215.65,282.63 210.75,282.75 205.9,282.5C201.05,282.25 195.77,281.85 191.4,281C187.03,280.15 183.1,278.98 179.7,277.4C176.3,275.82 173.42,273.68 171,271.5C168.58,269.32 166.78,267.2 165.2,264.3C163.62,261.4 162.23,257.5 161.5,254.1C160.77,250.7 160.8,247.3 160.8,243.9C160.8,240.5 161.02,236.85 161.5,233.7C161.98,230.55 163.37,228.12 163.7,225C164.03,221.88 163.45,218.33 163.5,215C163.55,211.67 163.58,208.33 164,205Z" stroke="#00ff00" stroke-width="2.4"/>
<path d="M188.5,225C189.58,223.03 190.3,221.07 192,219C193.7,216.93 196.62,214.27 198.7,212.6C200.78,210.93 202.07,209.72 204.5,209C206.93,208.28 210.88,208.18 213.3,208.3C215.72,208.42 216.82,209.22 219,209.7C221.18,210.18 223.97,210.48 226.4,211.2C228.83,211.92 230.93,212.78 233.6,214C236.27,215.22 239.73,217.03 242.4,218.5C245.07,219.97 247.5,221.12 249.6,222.8C251.7,224.48 253.52,226.4 255,228.6C256.48,230.8 257.67,233.6 258.5,236C259.33,238.4 259.68,240.82 260,243C260.32,245.18 260.73,247.02 260.4,249.1C260.07,251.18 259.3,253.52 258,255.5C256.7,257.48 255.02,259.02 252.6,261C250.18,262.98 246.43,265.73 243.5,267.4C240.57,269.07 238.12,270.27 235,271C231.88,271.73 228.43,271.72 224.8,271.8C221.17,271.88 216.83,271.9 213.2,271.5C209.57,271.1 206.15,270.37 203,269.4C199.85,268.43 196.85,267.52 194.3,265.7C191.75,263.88 189.28,261.17 187.7,258.5C186.12,255.83 185.28,252.87 184.8,249.7C184.32,246.53 184.68,242.65 184.8,239.5C184.92,236.35 184.88,233.22 185.5,230.8C186.12,228.38 187.42,226.97 188.5,225Z" stroke="#00ff00" stroke-width="2.4"/>
<path d="M210.3,226.5C211.37,225.12 211.72,224.65 213,224C214.28,223.35 215.92,222.62 218,222.6C220.08,222.58 222.97,223.05 225.5,223.9C228.03,224.75 230.65,226.43 233.2,227.7C235.75,228.97 238.92,230.02 240.8,231.5C242.68,232.98 243.72,234.47 244.5,236.6C245.28,238.73 245.67,241.75 245.5,244.3C245.33,246.85 244.67,249.57 243.5,251.9C242.33,254.23 240.25,256.7 238.5,258.3C236.75,259.9 234.8,260.8 233,261.5C231.2,262.2 230.03,262.25 227.7,262.5C225.37,262.75 221.9,263.25 219,263C216.1,262.75 212.48,261.92 210.3,261C208.12,260.08 206.87,259.38 205.9,257.5C204.93,255.62 204.62,252.7 204.5,249.7C204.38,246.7 204.85,242.4 205.2,239.5C205.55,236.6 205.75,234.47 206.6,232.3C207.45,230.13 209.23,227.88 210.3,226.5Z" stroke="#00ff00" stroke-width="2.4"/>
<path d="M221,234.2 L226.3,233.5 L229.9,242.7 L226.3,247.7 L221.4,242.7 Z" fill="#00ff00" stroke="#00ff00" stroke-width="0.8"/>
<path d="M63.6,129C63.93,126.83 63.93,126 66,124C68.07,122 72,119.33 76,117C80,114.67 85.67,111.83 90,110C94.33,108.17 98,106.77 102,106C106,105.23 107.67,106.07 114,105.4C120.33,104.73 131.67,102.57 140,102C148.33,101.43 158,102 164,102C170,102 171,101.5 176,102C181,102.5 188.67,104.1 194,105C199.33,105.9 204,106.47 208,107.4C212,108.33 214.33,109.33 218,110.6C221.67,111.87 226.33,113.57 230,115C233.67,116.43 236.92,117.9 240,119.2C243.08,120.5 245.67,121.5 248.5,122.8C251.33,124.1 254.15,125.58 257,127C259.85,128.42 262.75,129.88 265.6,131.3C268.45,132.72 271.27,134.08 274.1,135.5C276.93,136.92 279.77,138.37 282.6,139.8C285.43,141.23 288.25,142.57 291.1,144.1C293.95,145.63 296.85,147.47 299.7,149C302.55,150.53 305.2,151.6 308.2,153.3C311.2,155 314.7,157.27 317.7,159.2C320.7,161.13 323.37,163 326.2,164.9C329.03,166.8 331.87,168.47 334.7,170.6C337.53,172.73 340.6,175.57 343.2,177.7C345.8,179.83 347.42,181.28 350.3,183.4C353.18,185.52 357.13,187.88 360.5,190.4C363.87,192.92 367.45,195.52 370.5,198.5C373.55,201.48 376.55,204.92 378.8,208.3C381.05,211.68 383.22,215.52 384,218.8C384.78,222.08 384.67,225.05 383.5,228C382.33,230.95 379.75,233.75 377,236.5C374.25,239.25 371.17,241.25 367,244.5C362.83,247.75 357.42,251.83 352,256C346.58,260.17 340.28,265.75 334.5,269.5C328.72,273.25 321.42,276.45 317.3,278.5C313.18,280.55 312.98,280.38 309.8,281.8C306.62,283.22 302.57,285.17 298.2,287C293.83,288.83 288.47,290.87 283.6,292.8C278.73,294.73 273.85,296.9 269,298.6C264.15,300.3 259.33,301.77 254.5,303C249.67,304.23 243.63,305.42 240,306C236.37,306.58 236.33,306.35 232.7,306.5C229.07,306.65 223.05,306.73 218.2,306.9C213.35,307.07 208.47,307.27 203.6,307.5C198.73,307.73 193.85,308.12 189,308.3C184.15,308.48 178.78,308.9 174.5,308.6C170.22,308.3 167.77,307.13 163.3,306.5C158.83,305.87 152.92,305.65 147.7,304.8C142.48,303.95 136.83,302.53 132,301.4C127.17,300.27 123.15,299.3 118.7,298C114.25,296.7 109.75,295.43 105.3,293.6C100.85,291.77 95.72,289.27 92,287C88.28,284.73 85.25,282.43 83,280C80.75,277.57 78.87,274.97 78.5,272.4C78.13,269.83 79.3,267.57 80.8,264.6C82.3,261.63 84.9,257.75 87.5,254.6C90.1,251.45 93.43,248.5 96.4,245.7C99.37,242.9 101.95,240.58 105.3,237.8C108.65,235.02 113.15,231.8 116.5,229C119.85,226.2 123.65,223.67 125.4,221C127.15,218.33 126.9,215.17 127,213C127.1,210.83 126.67,209.83 126,208C125.33,206.17 124.33,204.17 123,202C121.67,199.83 119.83,196.92 118,195C116.17,193.08 114.67,192.33 112,190.5C109.33,188.67 105.33,186.25 102,184C98.67,181.75 95,179.5 92,177C89,174.5 86.67,171.5 84,169C81.33,166.5 78.5,164.33 76,162C73.5,159.67 70.67,157.5 69,155C67.33,152.5 66.83,150 66,147C65.17,144 64.4,140 64,137C63.6,134 63.27,131.17 63.6,129Z" stroke="#0000ff" stroke-width="1.25" stroke-dasharray="4.7,4.6"/>
<path d="M150,125C154.33,124.83 158.33,124.67 164,125C169.67,125.33 178,126.3 184,127C190,127.7 195.67,128.48 200,129.2C204.33,129.92 206.67,130.6 210,131.3C213.33,132 216.83,132.65 220,133.4C223.17,134.15 225.67,134.62 229,135.8C232.33,136.98 236.52,139.23 240,140.5C243.48,141.77 246.82,142.22 249.9,143.4C252.98,144.58 255.65,146.18 258.5,147.6C261.35,149.02 264.17,150.48 267,151.9C269.83,153.32 272.42,154.68 275.5,156.1C278.58,157.52 282.42,158.97 285.5,160.4C288.58,161.83 291.17,163.17 294,164.7C296.83,166.23 299.73,167.8 302.5,169.6C305.27,171.4 307.83,173.68 310.6,175.5C313.37,177.32 316.5,178.72 319.1,180.5C321.7,182.28 323.83,184.3 326.2,186.2C328.57,188.1 331.17,189.77 333.3,191.9C335.43,194.03 337.35,196.87 339,199C340.65,201.13 341.95,202.7 343.2,204.7C344.45,206.7 345.62,208.28 346.5,211C347.38,213.72 349,217.5 348.5,221C348,224.5 345.55,229.15 343.5,232C341.45,234.85 338.83,236.07 336.2,238.1C333.57,240.13 330.53,242.17 327.7,244.2C324.87,246.23 321.83,248.47 319.2,250.3C316.57,252.13 314.33,253.58 311.9,255.2C309.47,256.82 307.03,258.18 304.6,260C302.17,261.82 299.73,264.07 297.3,266.1C294.87,268.13 292.28,270.17 290,272.2C287.72,274.23 287.1,276.08 283.6,278.3C280.1,280.52 273.85,283.32 269,285.5C264.15,287.68 259.33,289.9 254.5,291.4C249.67,292.9 244.83,293.73 240,294.5C235.17,295.27 230.33,295.75 225.5,296C220.67,296.25 215.85,295.88 211,296C206.15,296.12 201.27,296.42 196.4,296.7C191.53,296.98 185.93,297.53 181.8,297.7C177.67,297.87 174.68,297.9 171.6,297.7C168.52,297.5 166.9,297.55 163.3,296.5C159.7,295.45 154.08,292.98 150,291.4C145.92,289.82 142.53,288.3 138.8,287C135.07,285.7 130.57,285.1 127.6,283.6C124.63,282.1 122.3,280.43 121,278C119.7,275.57 119.47,272 119.8,269C120.13,266 121.32,262.77 123,260C124.68,257.23 126.9,254.98 129.9,252.4C132.9,249.82 137.32,246.9 141,244.5C144.68,242.1 148.83,240.08 152,238C155.17,235.92 157.83,234.5 160,232C162.17,229.5 164.17,226.33 165,223C165.83,219.67 165.5,215.67 165,212C164.5,208.33 163.83,204.5 162,201C160.17,197.5 157,194 154,191C151,188 147.33,185.67 144,183C140.67,180.33 137.33,177.67 134,175C130.67,172.33 126.67,169.5 124,167C121.33,164.5 119.83,162.67 118,160C116.17,157.33 113.83,154.17 113,151C112.17,147.83 112.17,144 113,141C113.83,138 115.5,135.17 118,133C120.5,130.83 124.67,129.17 128,128C131.33,126.83 134.33,126.5 138,126C141.67,125.5 145.67,125.17 150,125Z" stroke="#0000ff" stroke-width="1.25" stroke-dasharray="4.7,4.6"/>
<path d="M177,157C178.17,155.33 179.83,154.83 182,154C184.17,153.17 187,152.43 190,152C193,151.57 196.67,151.23 200,151.4C203.33,151.57 206.67,152.47 210,153C213.33,153.53 216.33,153.77 220,154.6C223.67,155.43 228,156.77 232,158C236,159.23 240.33,160.67 244,162C247.67,163.33 251.12,164.97 254,166C256.88,167.03 258.67,167.23 261.3,168.2C263.93,169.17 267.18,170.33 269.8,171.8C272.42,173.27 274.47,174.83 277,177C279.53,179.17 282.48,182.55 285,184.8C287.52,187.05 289.97,188.37 292.1,190.5C294.23,192.63 295.9,195.23 297.8,197.6C299.7,199.97 301.85,202.33 303.5,204.7C305.15,207.07 306.78,209.17 307.7,211.8C308.62,214.43 309.15,217.8 309,220.5C308.85,223.2 308.18,225.47 306.8,228C305.42,230.53 303,233.15 300.7,235.7C298.4,238.25 295.53,240.77 293,243.3C290.47,245.83 288,248.37 285.5,250.9C283,253.43 279.98,256.37 278,258.5C276.02,260.63 275.4,261.78 273.6,263.7C271.8,265.62 269.47,268.02 267.2,270C264.93,271.98 262.73,274.07 260,275.6C257.27,277.13 253.85,278.22 250.8,279.2C247.75,280.18 244.73,280.87 241.7,281.5C238.67,282.13 236.13,282.48 232.6,283C229.07,283.52 224.95,284.27 220.5,284.6C216.05,284.93 211.97,285 205.9,285C199.83,285 190.17,284.9 184.1,284.6C178.03,284.3 173.13,284.17 169.5,283.2C165.87,282.23 164.23,280.75 162.3,278.8C160.37,276.85 158.52,273.92 157.9,271.5C157.28,269.08 157.63,266.72 158.6,264.3C159.57,261.88 161.38,259.43 163.7,257C166.02,254.57 169.58,252.37 172.5,249.7C175.42,247.03 178.53,243.9 181.2,241C183.87,238.1 186.32,234.97 188.5,232.3C190.68,229.63 193.05,227.55 194.3,225C195.55,222.45 195.72,219.33 196,217C196.28,214.67 196.17,213.33 196,211C195.83,208.67 195.67,205.67 195,203C194.33,200.33 193.5,197.67 192,195C190.5,192.33 188,189.67 186,187C184,184.33 181.67,181.67 180,179C178.33,176.33 176.83,173.5 176,171C175.17,168.5 174.83,166.33 175,164C175.17,161.67 175.83,158.67 177,157Z" stroke="#0000ff" stroke-width="2.4"/>
<path d="M228,199C228.08,197.17 228,194.6 229,193C230,191.4 231.83,189.9 234,189.4C236.17,188.9 239.33,189.23 242,190C244.67,190.77 247.78,192.33 250,194C252.22,195.67 253.2,198.13 255.3,200C257.4,201.87 260.12,203.32 262.6,205.2C265.08,207.08 268.42,209 270.2,211.3C271.98,213.6 272.92,216.22 273.3,219C273.68,221.78 272.97,225.17 272.5,228C272.03,230.83 271.17,233.67 270.5,236C269.83,238.33 269.33,240 268.5,242C267.67,244 266.75,245.75 265.5,248C264.25,250.25 262.75,253.5 261,255.5C259.25,257.5 257.17,258.42 255,260C252.83,261.58 250.22,263.62 248,265C245.78,266.38 244.27,267.13 241.7,268.3C239.13,269.47 234.93,271.17 232.6,272C230.27,272.83 230.93,273.02 227.7,273.3C224.47,273.58 218.05,273.75 213.2,273.7C208.35,273.65 202.48,273.48 198.6,273C194.72,272.52 192.08,272.02 189.9,270.8C187.72,269.58 186.23,267.52 185.5,265.7C184.77,263.88 184.77,262.32 185.5,259.9C186.23,257.48 187.95,254.1 189.9,251.2C191.85,248.3 194.52,245.28 197.2,242.5C199.88,239.72 202.87,237 206,234.5C209.13,232 213,229.58 216,227.5C219,225.42 221.75,223.92 224,222C226.25,220.08 228.5,218.17 229.5,216C230.5,213.83 230.17,211 230,209C229.83,207 228.83,205.67 228.5,204C228.17,202.33 227.92,200.83 228,199Z" stroke="#0000ff" stroke-width="2.4"/>
<path d="M203,258.5C203.13,256.95 204.5,255.42 206,253.5C207.5,251.58 210,249 212,247C214,245 215.75,243.23 218,241.5C220.25,239.77 222.97,237.93 225.5,236.6C228.03,235.27 230.65,234.13 233.2,233.5C235.75,232.87 238.47,232.48 240.8,232.8C243.13,233.12 245.53,234.12 247.2,235.4C248.87,236.68 250.17,238.57 250.8,240.5C251.43,242.43 251.47,244.58 251,247C250.53,249.42 249.55,252.67 248,255C246.45,257.33 244.12,259.4 241.7,261C239.28,262.6 236.32,263.82 233.5,264.6C230.68,265.38 228.18,265.52 224.8,265.7C221.42,265.88 216.47,266.18 213.2,265.7C209.93,265.22 206.9,264 205.2,262.8C203.5,261.6 202.87,260.05 203,258.5Z" stroke="#0000ff" stroke-width="2.6"/>
<path d="M225.2,252.8C225.53,252.02 226.2,251.85 227.2,251.6C228.2,251.35 229.82,250.83 231.2,251.3C232.58,251.77 235.03,253.53 235.5,254.4C235.97,255.27 235.38,255.98 234,256.5C232.62,257.02 228.67,257.53 227.2,257.5C225.73,257.47 225.53,257.08 225.2,256.3C224.87,255.52 224.87,253.58 225.2,252.8Z" stroke="#0000ff" stroke-width="3.8"/>
<path d="M135,88C135.33,85.67 135.83,83.5 138,81C140.17,78.5 143.67,75.67 148,73C152.33,70.33 158.83,67.4 164,65C169.17,62.6 174,59.43 179,58.6C184,57.77 188.83,60.17 194,60C199.17,59.83 206.33,57.6 210,57.6C213.67,57.6 213.67,58.6 216,60C218.33,61.4 220,64.17 224,66C228,67.83 235,69.17 240,71C245,72.83 248.67,74.83 254,77C259.33,79.17 266.5,80.67 272,84C277.5,87.33 283,93.9 287,97C291,100.1 292.33,100.6 296,102.6C299.67,104.6 305.33,106.82 309,109C312.67,111.18 314.83,113.2 318,115.7C321.17,118.2 324.42,121 328,124C331.58,127 335.77,130.62 339.5,133.7C343.23,136.78 346.82,139.22 350.4,142.5C353.98,145.78 357.73,150.15 361,153.4C364.27,156.65 367,159.15 370,162C373,164.85 376.5,167.8 379,170.5C381.5,173.2 383,175.55 385,178.2C387,180.85 389.17,183.6 391,186.4C392.83,189.2 394.83,191.07 396,195C397.17,198.93 398.5,205.92 398,210C397.5,214.08 395.8,216.67 393,219.5C390.2,222.33 385.2,224.58 381.2,227C377.2,229.42 373.9,231.53 369,234C364.1,236.47 357.55,239.35 351.8,241.8C346.05,244.25 339.32,246.88 334.5,248.7C329.68,250.52 326.27,251.42 322.9,252.7C319.53,253.98 317.15,255.18 314.3,256.4C311.45,257.62 308.63,258.73 305.8,260C302.97,261.27 299.93,262.62 297.3,264C294.67,265.38 292.28,266.8 290,268.3C287.72,269.8 287.1,270.97 283.6,273C280.1,275.03 273.85,278.53 269,280.5C264.15,282.47 258.83,283.63 254.5,284.8C250.17,285.97 247.83,286.55 243,287.5C238.17,288.45 230.83,290 225.5,290.5C220.17,291 215.37,290.45 211,290.5C206.63,290.55 202.97,290.45 199.3,290.8C195.63,291.15 192.38,291.82 189,292.6C185.62,293.38 182.38,294.65 179,295.5C175.62,296.35 171.87,297.23 168.7,297.7C165.53,298.17 163.5,298.05 160,298.3C156.5,298.55 151.98,298.87 147.7,299.2C143.42,299.53 138.75,299.75 134.3,300.3C129.85,300.85 125.47,301.75 121,302.5C116.53,303.25 112.33,304.3 107.5,304.8C102.67,305.3 97.2,305.5 92,305.5C86.8,305.5 80.58,305.3 76.3,304.8C72.02,304.3 68.72,303.8 66.3,302.5C63.88,301.2 62.55,299.25 61.8,297C61.05,294.75 61.27,291.23 61.8,289C62.33,286.77 62.97,285.43 65,283.6C67.03,281.77 70.63,279.87 74,278C77.37,276.13 81.1,274.25 85.2,272.4C89.3,270.55 94.13,269.13 98.6,266.9C103.07,264.67 107.53,261.62 112,259C116.47,256.38 120.93,253.62 125.4,251.2C129.87,248.78 134.37,246.37 138.8,244.5C143.23,242.63 148.47,241.58 152,240C155.53,238.42 157.67,236.67 160,235C162.33,233.33 163.55,232.25 166,230C168.45,227.75 172.53,224 174.7,221.5C176.87,219 177.62,217.42 179,215C180.38,212.58 182.23,209.67 183,207C183.77,204.33 183.77,201.67 183.6,199C183.43,196.33 182.93,194 182,191C181.07,188 179.5,184.33 178,181C176.5,177.67 174.67,174 173,171C171.33,168 169.83,165.67 168,163C166.17,160.33 164,158 162,155C160,152 158,148.33 156,145C154,141.67 151.83,138.33 150,135C148.17,131.67 146.33,128.33 145,125C143.67,121.67 143,118.67 142,115C141,111.33 140,106.33 139,103C138,99.67 136.67,97.5 136,95C135.33,92.5 134.67,90.33 135,88Z" stroke="#ff0000" stroke-width="1.25" stroke-dasharray="4.7,4.6"/>
<path d="M198,131C199,128.33 200.33,123.67 202,121C203.67,118.33 205.67,116.23 208,115C210.33,113.77 213.33,113.77 216,113.6C218.67,113.43 221.33,113.6 224,114C226.67,114.4 228.62,115.85 232,116C235.38,116.15 240.6,114.48 244.3,114.9C248,115.32 251.13,117.32 254.2,118.5C257.27,119.68 259.85,120.93 262.7,122C265.55,123.07 268.45,123.83 271.3,124.9C274.15,125.97 276.97,127.22 279.8,128.4C282.63,129.58 285.47,130.93 288.3,132C291.13,133.07 294.43,133.62 296.8,134.8C299.17,135.98 300.6,137.43 302.5,139.1C304.4,140.77 306.85,143.47 308.2,144.8C309.55,146.13 308.78,145.88 310.6,147.1C312.42,148.32 316.27,150.08 319.1,152.1C321.93,154.12 325,157.07 327.6,159.2C330.2,161.33 332.33,162.77 334.7,164.9C337.07,167.03 339.67,169.63 341.8,172C343.93,174.37 345.37,176.73 347.5,179.1C349.63,181.47 352.52,182.88 354.6,186.2C356.68,189.52 359.43,195.37 360,199C360.57,202.63 359.25,205.25 358,208C356.75,210.75 354.5,213.03 352.5,215.5C350.5,217.97 348.42,220.55 346,222.8C343.58,225.05 341.07,226.7 338,229C334.93,231.3 331.63,234.18 327.6,236.6C323.57,239.02 318.4,241.35 313.8,243.5C309.2,245.65 304.3,247.58 300,249.5C295.7,251.42 291.78,253.17 288,255C284.22,256.83 280.47,259.05 277.3,260.5C274.13,261.95 271.88,262.55 269,263.7C266.12,264.85 263.03,266.4 260,267.4C256.97,268.4 253.85,269.1 250.8,269.7C247.75,270.3 244.33,270.62 241.7,271C239.07,271.38 239.75,271.92 235,272C230.25,272.08 219.27,271.58 213.2,271.5C207.13,271.42 202.97,271 198.6,271.5C194.23,272 190.63,273.52 187,274.5C183.37,275.48 179.72,276.68 176.8,277.4C173.88,278.12 171.92,279.05 169.5,278.8C167.08,278.55 163.98,277.37 162.3,275.9C160.62,274.43 158.92,272.18 159.4,270C159.88,267.82 163.02,265.45 165.2,262.8C167.38,260.15 170.08,257 172.5,254.1C174.92,251.2 177.28,248.32 179.7,245.4C182.12,242.48 184.7,239.5 187,236.6C189.3,233.7 191.5,230.77 193.5,228C195.5,225.23 197.58,222.67 199,220C200.42,217.33 201.17,214.5 202,212C202.83,209.5 203.5,207.5 204,205C204.5,202.5 205,200 205,197C205,194 204.5,190.33 204,187C203.5,183.67 202.67,180.33 202,177C201.33,173.67 200.83,170.33 200,167C199.17,163.67 197.83,160.33 197,157C196.17,153.67 195.17,150.33 195,147C194.83,143.67 195.5,139.67 196,137C196.5,134.33 197,133.67 198,131Z" stroke="#ff0000" stroke-width="1.25" stroke-dasharray="4.7,4.6"/>
<path d="M230,180C231.33,176.67 232.33,172.55 234,170C235.67,167.45 237.58,165.83 240,164.7C242.42,163.57 245.67,163.77 248.5,163.2C251.33,162.63 254.08,161.58 257,161.3C259.92,161.02 262.68,161.07 266,161.5C269.32,161.93 273.68,162.73 276.9,163.9C280.12,165.07 282.48,166.93 285.3,168.5C288.12,170.07 291.25,171.53 293.8,173.3C296.35,175.07 298.52,176.95 300.6,179.1C302.68,181.25 304.4,183.6 306.3,186.2C308.2,188.8 310.58,192.1 312,194.7C313.42,197.3 314.22,199.43 314.8,201.8C315.38,204.17 315.57,206.62 315.5,208.9C315.43,211.18 314.9,213.15 314.4,215.5C313.9,217.85 313.73,220.42 312.5,223C311.27,225.58 309.25,228.75 307,231C304.75,233.25 301.83,235 299,236.5C296.17,238 292.77,238.83 290,240C287.23,241.17 285.57,241.92 282.4,243.5C279.23,245.08 274.73,247.78 271,249.5C267.27,251.22 263.37,252.65 260,253.8C256.63,254.95 254.63,255.82 250.8,256.4C246.97,256.98 240.85,257.45 237,257.3C233.15,257.15 230.7,256.28 227.7,255.5C224.7,254.72 221.42,253.8 219,252.6C216.58,251.4 214.53,250.23 213.2,248.3C211.87,246.37 211.25,243.67 211,241C210.75,238.33 210.87,234.97 211.7,232.3C212.53,229.63 214.78,227.55 216,225C217.22,222.45 218.17,219.5 219,217C219.83,214.5 220.33,212.83 221,210C221.67,207.17 222.17,203.33 223,200C223.83,196.67 224.83,193.33 226,190C227.17,186.67 228.67,183.33 230,180Z" stroke="#ff0000" stroke-width="2.4"/>
<path d="M241.1,207.2C243.63,205.22 246.98,202.97 250.2,201.1C253.42,199.23 257.07,196.85 260.4,196C263.73,195.15 266.78,194.97 270.2,196C273.62,197.03 277.85,199.9 280.9,202.2C283.95,204.5 286.73,207 288.5,209.8C290.27,212.6 291.37,215.97 291.5,219C291.63,222.03 290.82,225.22 289.3,228C287.78,230.78 285.33,233.4 282.4,235.7C279.47,238 275,240.33 271.7,241.8C268.4,243.27 266.08,243.8 262.6,244.5C259.12,245.2 255.07,245.83 250.8,246C246.53,246.17 240.6,246.58 237,245.5C233.4,244.42 230.75,241.7 229.2,239.5C227.65,237.3 227.7,234.72 227.7,232.3C227.7,229.88 228.48,227.38 229.2,225C229.92,222.62 231.03,220 232,218C232.97,216 233.48,214.8 235,213C236.52,211.2 238.57,209.18 241.1,207.2Z" stroke="#ff0000" stroke-width="2.4"/>
<path d="M239,228.5C239.27,226.32 239.9,222.6 241.1,220.4C242.3,218.2 243.83,217 246.2,215.3C248.57,213.6 252.27,211.55 255.3,210.2C258.33,208.85 261.87,207.37 264.4,207.2C266.93,207.03 268.82,207.98 270.5,209.2C272.18,210.42 273.75,212.47 274.5,214.5C275.25,216.53 275.25,219.23 275,221.4C274.75,223.57 274.08,225.65 273,227.5C271.92,229.35 270.6,231.15 268.5,232.5C266.4,233.85 263.28,234.8 260.4,235.6C257.52,236.4 254.08,237.13 251.2,237.3C248.32,237.47 245.05,237.23 243.1,236.6C241.15,235.97 240.18,234.85 239.5,233.5C238.82,232.15 238.73,230.68 239,228.5Z" stroke="#ff0000" stroke-width="3.4"/>
<path d="M252.2,224.4 L262.4,219.3 L267.5,224.4 L262.4,228 Z" fill="#ff0000" stroke="#ff0000" stroke-width="1"/>
</g>
<g clip-path="url(#cb)" fill="none">
<line x1="53.8" y1="345.83" x2="392.7" y2="345.83" stroke="#999" stroke-width="1.1" stroke-dasharray="1.1,2.17"/>
<line x1="54.8" y1="361.33" x2="392.7" y2="361.33" stroke="#8c8c8c" stroke-width="1.3" stroke-dasharray="4.7,4.7"/>
<line x1="53.8" y1="387.15" x2="392.7" y2="387.15" stroke="#8c8c8c" stroke-width="1.2"/>
<line x1="54.8" y1="412.98" x2="392.7" y2="412.98" stroke="#8c8c8c" stroke-width="1.3" stroke-dasharray="4.7,4.7"/>
<line x1="53.8" y1="428.47" x2="392.7" y2="428.47" stroke="#999" stroke-width="1.1" stroke-dasharray="1.1,2.17"/>
<polyline points="54,437.1 56,436.98 58,436.85 60,436.71 62,436.57 64,436.42 66,436.25 68,436.09 70,435.91 72,435.72 74,435.53 76,435.32 78,435.1 80,434.88 82,434.64 84,434.39 86,434.12 88,433.85 90,433.56 92,433.26 94,432.95 96,432.62 98,432.28 100,431.92 102,431.55 104,431.16 106,430.76 108,430.34 110,429.9 112,429.44 114,428.97 116,428.48 118,427.97 120,427.44 122,426.89 124,426.32 126,425.74 128,425.13 130,424.5 132,423.85 134,423.18 136,422.49 138,421.77 140,421.04 142,420.28 144,419.5 146,418.7 148,417.88 150,417.03 152,416.17 154,415.28 156,414.36 158,413.43 160,412.48 162,411.5 164,410.5 166,409.49 168,408.45 170,407.39 172,406.31 174,405.22 176,404.1 178,402.97 180,401.82 182,400.66 184,399.48 186,398.28 188,397.07 190,395.85 192,394.62 194,393.38 196,392.12 198,390.86 200,389.59 202,388.31 204,387.03 206,385.75 208,384.46 210,383.17 212,381.88 214,380.59 216,379.3 218,378.02 220,376.74 222,375.46 224,374.2 226,372.94 228,371.69 230,370.46 232,369.24 234,368.03 236,366.83 238,365.65 240,364.49 242,363.35 244,362.22 246,361.11 248,360.03 250,358.97 252,357.92 254,356.91 256,355.91 258,354.94 260,354 262,353.08 264,352.18 266,351.31 268,350.47 270,349.65 272,348.86 274,348.1 276,347.36 278,346.65 280,345.97 282,345.31 284,344.68 286,344.08 288,343.5 290,342.94 292,342.41 294,341.9 296,341.42 298,340.96 300,340.53 302,340.11 304,339.72 306,339.35 308,338.99 310,338.66 312,338.35 314,338.05 316,337.78 318,337.51 320,337.27 322,337.04 324,336.82 326,336.62 328,336.44 330,336.26 332,336.1 334,335.95 336,335.81 338,335.68 340,335.56 342,335.45 344,335.34 346,335.25 348,335.16 350,335.08 352,335.01 354,334.94 356,334.88 358,334.82 360,334.77 362,334.72 364,334.68 366,334.64 368,334.61 370,334.57 372,334.55 374,334.52 376,334.5 378,334.47 380,334.45 382,334.44 384,334.42 386,334.41" stroke="#00ff00" stroke-width="2.1" stroke-linejoin="round"/>
<polyline points="54,437.17 56,437.06 58,436.94 60,436.82 62,436.69 64,436.55 66,436.41 68,436.26 70,436.1 72,435.93 74,435.76 76,435.58 78,435.39 80,435.19 82,434.98 84,434.76 86,434.53 88,434.29 90,434.04 92,433.78 94,433.51 96,433.22 98,432.93 100,432.62 102,432.3 104,431.96 106,431.62 108,431.25 110,430.88 112,430.49 114,430.08 116,429.66 118,429.22 120,428.77 122,428.3 124,427.81 126,427.31 128,426.79 130,426.25 132,425.69 134,425.12 136,424.52 138,423.91 140,423.28 142,422.63 144,421.96 146,421.27 148,420.56 150,419.82 152,419.07 154,418.3 156,417.51 158,416.7 160,415.86 162,415.01 164,414.14 166,413.24 168,412.33 170,411.39 172,410.44 174,409.47 176,408.47 178,407.46 180,406.43 182,405.38 184,404.32 186,403.23 188,402.13 190,401.02 192,399.88 194,398.74 196,397.58 198,396.4 200,395.21 202,394.02 204,392.81 206,391.59 208,390.36 210,389.13 212,387.88 214,386.64 216,385.38 218,384.13 220,382.87 222,381.61 224,380.35 226,379.09 228,377.84 230,376.59 232,375.34 234,374.1 236,372.86 238,371.64 240,370.43 242,369.22 244,368.03 246,366.85 248,365.69 250,364.54 252,363.41 254,362.3 256,361.2 258,360.12 260,359.07 262,358.03 264,357.02 266,356.03 268,355.06 270,354.12 272,353.2 274,352.31 276,351.44 278,350.59 280,349.78 282,348.98 284,348.22 286,347.48 288,346.76 290,346.08 292,345.41 294,344.78 296,344.17 298,343.58 300,343.02 302,342.49 304,341.97 306,341.49 308,341.02 310,340.58 312,340.16 314,339.76 316,339.39 318,339.03 320,338.69 322,338.37 324,338.08 326,337.79 328,337.53 330,337.28 332,337.05 334,336.83 336,336.63 338,336.44 340,336.26 342,336.1 344,335.94 346,335.8 348,335.67 350,335.55 352,335.44 354,335.33 356,335.24 358,335.15 360,335.07 362,335 364,334.93 366,334.87 368,334.81 370,334.76 372,334.71 374,334.67 376,334.63 378,334.6 380,334.57 382,334.54 384,334.51 386,334.49" stroke="#0000ff" stroke-width="2.1" stroke-linejoin="round"/>
<polyline points="54,438.23 56,438.18 58,438.13 60,438.07 62,438.01 64,437.94 66,437.88 68,437.8 70,437.73 72,437.65 74,437.56 76,437.47 78,437.38 80,437.28 82,437.18 84,437.07 86,436.95 88,436.83 90,436.7 92,436.57 94,436.43 96,436.28 98,436.12 100,435.96 102,435.79 104,435.61 106,435.42 108,435.22 110,435.02 112,434.8 114,434.58 116,434.34 118,434.09 120,433.84 122,433.57 124,433.29 126,433 128,432.7 130,432.38 132,432.05 134,431.71 136,431.35 138,430.98 140,430.6 142,430.2 144,429.78 146,429.35 148,428.9 150,428.44 152,427.96 154,427.46 156,426.95 158,426.42 160,425.87 162,425.3 164,424.71 166,424.1 168,423.48 170,422.83 172,422.17 174,421.48 176,420.77 178,420.04 180,419.3 182,418.53 184,417.73 186,416.92 188,416.09 190,415.23 192,414.35 194,413.45 196,412.53 198,411.58 200,410.62 202,409.63 204,408.62 206,407.59 208,406.53 210,405.46 212,404.37 214,403.25 216,402.12 218,400.97 220,399.79 222,398.6 224,397.39 226,396.17 228,394.93 230,393.67 232,392.4 234,391.12 236,389.83 238,388.52 240,387.2 242,385.88 244,384.55 246,383.21 248,381.86 250,380.52 252,379.17 254,377.82 256,376.47 258,375.13 260,373.79 262,372.45 264,371.13 266,369.81 268,368.5 270,367.21 272,365.93 274,364.66 276,363.42 278,362.19 280,360.98 282,359.79 284,358.63 286,357.49 288,356.37 290,355.29 292,354.23 294,353.19 296,352.19 298,351.22 300,350.28 302,349.37 304,348.49 306,347.64 308,346.82 310,346.04 312,345.29 314,344.57 316,343.89 318,343.23 320,342.61 322,342.02 324,341.46 326,340.93 328,340.43 330,339.96 332,339.51 334,339.09 336,338.7 338,338.33 340,337.99 342,337.67 344,337.37 346,337.1 348,336.84 350,336.61 352,336.39 354,336.19 356,336 358,335.83 360,335.68 362,335.54 364,335.41 366,335.29 368,335.18 370,335.09 372,335 374,334.92 376,334.85 378,334.78 380,334.73 382,334.68 384,334.63 386,334.59" stroke="#ff0000" stroke-width="2.1" stroke-linejoin="round"/>
</g>
<g clip-path="url(#cc)" fill="none" stroke-width="2" stroke-linejoin="round">
<path d="M434.9,40.7C435.2,41.92 436.1,45.62 436.7,48C437.3,50.38 437.9,52.62 438.5,55C439.1,57.38 439.7,59.87 440.3,62.3C440.9,64.73 441.48,66.77 442.1,69.6C442.72,72.43 443.42,76.4 444,79.3C444.58,82.2 445.27,84.38 445.6,87C445.93,89.62 446,92.5 446,95C446,97.5 445.8,99.67 445.6,102C445.4,104.33 445.23,106.75 444.8,109C444.37,111.25 443.72,113.42 443,115.5C442.28,117.58 441.47,119.5 440.5,121.5C439.53,123.5 438.45,125.5 437.2,127.5C435.95,129.5 434.37,131.62 433,133.5C431.63,135.38 430.27,137.25 429,138.8C427.73,140.35 427.05,140.92 425.4,142.8C423.75,144.68 421.03,147.35 419.1,150.1C417.17,152.85 415.33,156 413.8,159.3C412.27,162.6 410.88,166.6 409.9,169.9C408.92,173.2 408.45,175.75 407.9,179.1C407.35,182.45 407.03,186.52 406.6,190C406.17,193.48 405.63,196.67 405.3,200C404.97,203.33 404.78,204.17 404.6,210C404.42,215.83 404.32,225.5 404.2,235C404.08,244.5 403.97,256.17 403.9,267C403.83,277.83 403.82,290.45 403.8,300C403.78,309.55 403.8,320.25 403.8,324.3" stroke="#dc20f0"/>
<path d="M411.9,40.7C412.08,41.92 412.63,45.62 413,48C413.37,50.38 413.6,52.82 414.1,55C414.6,57.18 415.28,58.87 416,61.1C416.72,63.33 417.5,65.97 418.4,68.4C419.3,70.83 420.28,73.27 421.4,75.7C422.52,78.13 423.78,80.57 425.1,83C426.42,85.43 427.78,87.87 429.3,90.3C430.82,92.73 432.67,95.27 434.2,97.6C435.73,99.93 437.15,102.05 438.5,104.3C439.85,106.55 440.65,108.95 442.3,111.1C443.95,113.25 446.17,114.97 448.4,117.2C450.63,119.43 453.27,122.07 455.7,124.5C458.13,126.93 460.77,129.37 463,131.8C465.23,134.23 467.27,136.67 469.1,139.1C470.93,141.53 472.58,143.97 474,146.4C475.42,148.83 476.8,151.43 477.6,153.7C478.4,155.97 478.58,157.93 478.8,160C479.02,162.07 479.28,163.87 478.9,166.1C478.52,168.33 477.72,170.97 476.5,173.4C475.28,175.83 473.63,178.07 471.6,180.7C469.57,183.33 466.93,186.37 464.3,189.2C461.67,192.03 458.63,194.87 455.8,197.7C452.97,200.53 449.93,203.57 447.3,206.2C444.67,208.83 443.23,209.47 440,213.5C436.77,217.53 431.4,225.47 427.9,230.4C424.4,235.33 421.53,238.87 419,243.1C416.47,247.33 414.38,251.57 412.7,255.8C411.02,260.03 409.97,264.28 408.9,268.5C407.83,272.72 406.93,276.88 406.3,281.1C405.67,285.32 405.43,289.57 405.1,293.8C404.77,298.03 404.5,301.42 404.3,306.5C404.1,311.58 403.97,321.33 403.9,324.3" stroke="#8a28f5"/>
<path d="M407,40.7C407.07,41.92 407.23,45.62 407.4,48C407.57,50.38 407.78,52.62 408,55C408.22,57.38 408.38,59.87 408.7,62.3C409.02,64.73 409.4,66.77 409.9,69.6C410.4,72.43 411.13,76.4 411.7,79.3C412.27,82.2 412.78,84.38 413.3,87C413.82,89.62 414.17,92.65 414.8,95C415.43,97.35 416.2,98.9 417.1,101.1C418,103.3 419.02,105.83 420.2,108.2C421.38,110.57 422.85,112.93 424.2,115.3C425.55,117.67 426.77,119.87 428.3,122.4C429.83,124.93 431.88,128.13 433.4,130.5C434.92,132.87 436.05,134.57 437.4,136.6C438.75,138.63 439.87,140.67 441.5,142.7C443.13,144.73 445.23,146.57 447.2,148.8C449.17,151.03 451.42,153.82 453.3,156.1C455.18,158.38 456.85,160.35 458.5,162.5C460.15,164.65 461.62,166.78 463.2,169C464.78,171.22 466.38,173.25 468,175.8C469.62,178.35 471.28,181.45 472.9,184.3C474.52,187.15 476.08,190.05 477.7,192.9C479.32,195.75 480.97,198.57 482.6,201.4C484.23,204.23 486.18,207.22 487.5,209.9C488.82,212.58 489.62,215.1 490.5,217.5C491.38,219.9 492.03,222.05 492.8,224.3C493.57,226.55 494.47,228.83 495.1,231C495.73,233.17 496.52,235.38 496.6,237.3C496.68,239.22 496.03,240.6 495.6,242.5C495.17,244.4 494.85,246.75 494,248.7C493.15,250.65 491.83,252.32 490.5,254.2C489.17,256.08 487.5,258.28 486,260C484.5,261.72 483.13,263.13 481.5,264.5C479.87,265.87 479.63,265.85 476.2,268.2C472.77,270.55 466.42,275.17 460.9,278.6C455.38,282.03 448.6,285.63 443.1,288.8C437.6,291.97 432.12,294.85 427.9,297.6C423.68,300.35 420.75,302.55 417.8,305.3C414.85,308.05 412.32,310.93 410.2,314.1C408.08,317.27 405.95,322.6 405.1,324.3" stroke="#0000ff"/>
</g>
<rect x="278.3" y="44.3" width="98.9" height="55.4" rx="1.5" fill="none" stroke="#1a1a1a" stroke-width="1.2"/>
<text x="283.4" y="59.4" font-family="Liberation Sans, sans-serif" font-size="13.5" fill="#ff0000" color="#ff0000">UF1</text>
<text x="329.7" y="59.4" font-family="Liberation Sans, sans-serif" font-size="13.5" fill="#ff0000" color="#ff0000">Gaia</text>
<path d="M315.6,55.3 H324.0 M319.8,51.1 V59.5" stroke="#ff0000" stroke-width="1.45" fill="none"/>
<text x="363.3" y="59.4" font-family="Liberation Serif, serif" font-style="italic" font-size="13" fill="#ff0000" color="#ff0000">&#960;</text>
<text x="283.4" y="76.2" font-family="Liberation Sans, sans-serif" font-size="13.5" fill="#0000ff" color="#0000ff">UF2</text>
<text x="329.7" y="76.2" font-family="Liberation Sans, sans-serif" font-size="13.5" fill="#0000ff" color="#0000ff">Gaia</text>
<path d="M315.6,72.1 H324.0 M319.8,67.9 V76.3" stroke="#0000ff" stroke-width="1.45" fill="none"/>
<text x="363.3" y="76.2" font-family="Liberation Serif, serif" font-style="italic" font-size="13" fill="#0000ff" color="#0000ff">&#960;</text>
<text x="283.4" y="93.1" font-family="Liberation Sans, sans-serif" font-size="13.5" fill="#00ff00" color="#00ff00">UF3</text>
<text x="329.7" y="93.1" font-family="Liberation Sans, sans-serif" font-size="13.5" fill="#00ff00" color="#00ff00">Gaia</text>
<path d="M315.6,89 H324.0 M319.8,84.8 V93.2" stroke="#00ff00" stroke-width="1.45" fill="none"/>
<text x="363.3" y="93.1" font-family="Liberation Serif, serif" font-style="italic" font-size="13" fill="#00ff00" color="#00ff00">&#960;</text>
<g stroke="#000">
<line x1="361.8" y1="115.6" x2="361.8" y2="281" stroke-width="2.6" stroke-dasharray="4.8,4.7"/>
<line x1="355.6" y1="116.9" x2="367.8" y2="116.9" stroke="#000" stroke-width="2.2"/>
<line x1="355.6" y1="281" x2="367.8" y2="281" stroke="#000" stroke-width="2.2"/>
<line x1="356.4" y1="171.5" x2="367.4" y2="171.5" stroke="#000" stroke-width="2.0"/>
<line x1="356.4" y1="226.1" x2="367.4" y2="226.1" stroke="#000" stroke-width="2.0"/>
</g>
<text x="371.4" y="121.0" font-family="Liberation Sans, sans-serif" font-size="13.5">9</text>
<text x="371.4" y="176.0" font-family="Liberation Sans, sans-serif" font-size="13.5">6</text>
<text x="371.4" y="230.8" font-family="Liberation Sans, sans-serif" font-size="13.5">3</text>
<text x="371.4" y="285.6" font-family="Liberation Sans, sans-serif" font-size="13.5">0</text>
<text x="328" y="304.7" font-family="Liberation Sans, sans-serif" font-size="14.4">A</text>
<text x="336.6" y="309.4" font-family="Liberation Sans, sans-serif" font-size="9">V</text>
<text x="347.6" y="304.9" font-family="Liberation Sans, sans-serif" font-size="15">[mag]</text>
<text x="65.8" y="54.4" font-family="Liberation Sans, sans-serif" font-size="16">A.</text>
<text x="63.8" y="344" font-family="Liberation Sans, sans-serif" font-size="16">B.</text>
<text x="484" y="54.4" font-family="Liberation Sans, sans-serif" font-size="16">C.</text>
<text x="94.49" y="26.6" font-family="Liberation Sans, sans-serif" font-size="13.5" text-anchor="middle" >0.5</text>
<text x="136.43" y="26.6" font-family="Liberation Sans, sans-serif" font-size="13.5" text-anchor="middle" >0.8</text>
<text x="156.35" y="26.6" font-family="Liberation Sans, sans-serif" font-size="13.5" text-anchor="middle" >1</text>
<text x="218.21" y="26.6" font-family="Liberation Sans, sans-serif" font-size="13.5" text-anchor="middle" >2</text>
<text x="254.4" y="26.6" font-family="Liberation Sans, sans-serif" font-size="13.5" text-anchor="middle" >3</text>
<text x="299.99" y="26.6" font-family="Liberation Sans, sans-serif" font-size="13.5" text-anchor="middle" >5</text>
<text x="341.93" y="26.6" font-family="Liberation Sans, sans-serif" font-size="13.5" text-anchor="middle" >8</text>
<text x="361.85" y="26.6" font-family="Liberation Sans, sans-serif" font-size="13.5" text-anchor="middle" >10</text>
<text x="222.9" y="9.6" font-family="Liberation Sans, sans-serif" font-size="13.5" text-anchor="middle" word-spacing="1.8">Distance [kpc]</text>
<text x="53.6" y="469.2" font-family="Liberation Sans, sans-serif" font-size="13.5" text-anchor="middle" >0.50</text>
<text x="104.97" y="469.2" font-family="Liberation Sans, sans-serif" font-size="13.5" text-anchor="middle" >0.25</text>
<text x="156.35" y="469.2" font-family="Liberation Sans, sans-serif" font-size="13.5" text-anchor="middle" >0.00</text>
<text x="207.72" y="469.2" font-family="Liberation Sans, sans-serif" font-size="13.5" text-anchor="middle" >-0.25</text>
<text x="259.1" y="469.2" font-family="Liberation Sans, sans-serif" font-size="13.5" text-anchor="middle" >-0.50</text>
<text x="310.48" y="469.2" font-family="Liberation Sans, sans-serif" font-size="13.5" text-anchor="middle" >-0.75</text>
<text x="361.85" y="469.2" font-family="Liberation Sans, sans-serif" font-size="13.5" text-anchor="middle" >-1.00</text>
<text x="222.8" y="489.5" font-family="Liberation Sans, sans-serif" font-size="13.5" text-anchor="middle" word-spacing="3.8">log(Parallax [mas])</text>
<text x="48.6" y="46.6" font-family="Liberation Sans, sans-serif" font-size="13.5" text-anchor="end" >1.0</text>
<text x="510.6" y="46.6" font-family="Liberation Sans, sans-serif" font-size="13.5" text-anchor="start" >1.0</text>
<text x="48.6" y="99.4" font-family="Liberation Sans, sans-serif" font-size="13.5" text-anchor="end" >0.8</text>
<text x="510.6" y="99.4" font-family="Liberation Sans, sans-serif" font-size="13.5" text-anchor="start" >0.8</text>
<text x="48.6" y="157.4" font-family="Liberation Sans, sans-serif" font-size="13.5" text-anchor="end" >0.6</text>
<text x="510.6" y="157.4" font-family="Liberation Sans, sans-serif" font-size="13.5" text-anchor="start" >0.6</text>
<text x="48.6" y="215.2" font-family="Liberation Sans, sans-serif" font-size="13.5" text-anchor="end" >0.4</text>
<text x="510.6" y="215.2" font-family="Liberation Sans, sans-serif" font-size="13.5" text-anchor="start" >0.4</text>
<text x="48.6" y="273" font-family="Liberation Sans, sans-serif" font-size="13.5" text-anchor="end" >0.2</text>
<text x="510.6" y="273" font-family="Liberation Sans, sans-serif" font-size="13.5" text-anchor="start" >0.2</text>
<text x="48.6" y="324" font-family="Liberation Sans, sans-serif" font-size="13.5" text-anchor="end" >0.0</text>
<text x="510.6" y="324" font-family="Liberation Sans, sans-serif" font-size="13.5" text-anchor="start" >0.0</text>
<text x="48.6" y="342" font-family="Liberation Sans, sans-serif" font-size="13.5" text-anchor="end" >100</text>
<text x="48.6" y="369.3" font-family="Liberation Sans, sans-serif" font-size="13.5" text-anchor="end" >75</text>
<text x="48.6" y="394.6" font-family="Liberation Sans, sans-serif" font-size="13.5" text-anchor="end" >50</text>
<text x="48.6" y="420.7" font-family="Liberation Sans, sans-serif" font-size="13.5" text-anchor="end" >25</text>
<text x="48.6" y="444" font-family="Liberation Sans, sans-serif" font-size="13.5" text-anchor="end" >0</text>
<text x="403.9" y="349.6" font-family="Liberation Sans, sans-serif" font-size="13.5" text-anchor="middle" >0</text>
<text x="448" y="349.6" font-family="Liberation Sans, sans-serif" font-size="13.5" text-anchor="middle" >1</text>
<text x="492.1" y="349.6" font-family="Liberation Sans, sans-serif" font-size="13.5" text-anchor="middle" >2</text>
<text x="448.7" y="370.8" font-family="Liberation Sans, sans-serif" font-size="13.5" text-anchor="middle" word-spacing="0.8">NLD [%]</text>
<text transform="translate(13.8,200.3) rotate(-90)" font-family="Liberation Sans, sans-serif" font-size="13" text-anchor="middle" word-spacing="-0.6">(H - K)</text>
<text transform="translate(13.8,157.9) rotate(-90)" font-family="Liberation Sans, sans-serif" font-size="14.5" text-anchor="middle">[mag]</text>
<text transform="translate(546.8,200.3) rotate(-90)" font-family="Liberation Sans, sans-serif" font-size="13" text-anchor="middle" word-spacing="-0.6">(H - K)</text>
<text transform="translate(546.8,157.9) rotate(-90)" font-family="Liberation Sans, sans-serif" font-size="14.5" text-anchor="middle">[mag]</text>
<text transform="translate(10.7,384.7) rotate(-90)" font-family="Liberation Sans, sans-serif" font-size="13" text-anchor="middle" word-spacing="2">CL [%]</text>
<text transform="translate(441.5,44.1) rotate(80.2)" font-family="Liberation Sans, sans-serif" font-size="13" fill="#dc20f0" color="#dc20f0">No Gaia</text>
<text transform="translate(399.6,73.9) rotate(52.4)" font-family="Liberation Sans, sans-serif" font-size="13" fill="#8a28f5" color="#8a28f5" word-spacing="1.8">Gaia no <tspan font-family="Liberation Serif, serif" font-style="italic">&#960;</tspan> + UF123</text>
<text transform="translate(413.7,136.35) rotate(52.5)" font-family="Liberation Sans, sans-serif" font-size="13" fill="#0000ff" color="#0000ff" word-spacing="1.35">Gaia <tspan font-family="Liberation Serif, serif" font-style="italic">&#960;</tspan> + UF123</text></svg>
</body></html>
